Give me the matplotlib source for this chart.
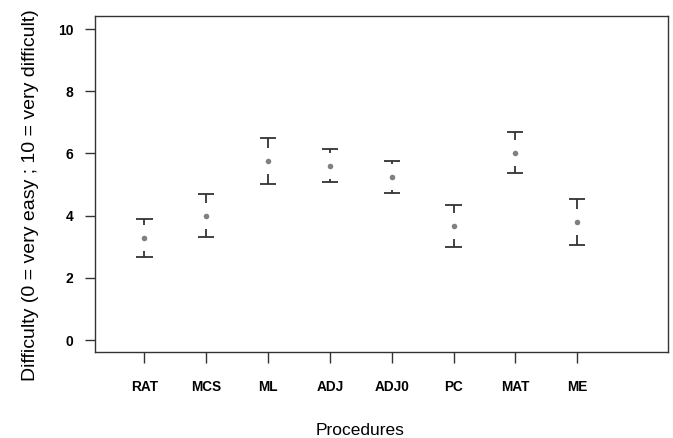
import matplotlib
matplotlib.use('Agg')
from matplotlib import pyplot as plt

plt.rcParams['font.family'] = ['Liberation Sans', 'DejaVu Sans']

# mean difficulty and interval limits per procedure
procedures = ['RAT', 'MCS', 'ML', 'ADJ', 'ADJ0', 'PC', 'MAT', 'ME']
means = [3.27, 3.98, 5.76, 5.60, 5.25, 3.67, 6.00, 3.80]
uppers = [3.89, 4.69, 6.50, 6.14, 5.76, 4.33, 6.68, 4.54]
lowers = [2.67, 3.31, 5.01, 5.09, 4.73, 3.00, 5.37, 3.05]

x = list(range(1, len(procedures) + 1))
line_c = '#333333'
gap = 0.42    # gap round the point, like R's plotCI
cap = 0.13

fig = plt.figure(figsize=(6.73, 4.38), dpi=100)
ax = fig.add_axes([0.1412, 0.1963, 0.9926 - 0.1412, 0.9635 - 0.1963])

for xi, m, hi, lo in zip(x, means, uppers, lowers):
    # upper stem + cap
    if hi > m + gap:
        ax.plot([xi, xi], [m + gap, hi], color=line_c, lw=1.3, solid_capstyle='butt')
    ax.plot([xi - cap, xi + cap], [hi, hi], color=line_c, lw=1.3, solid_capstyle='butt')
    # lower stem + cap
    if lo < m - gap:
        ax.plot([xi, xi], [m - gap, lo], color=line_c, lw=1.3, solid_capstyle='butt')
    ax.plot([xi - cap, xi + cap], [lo, lo], color=line_c, lw=1.3, solid_capstyle='butt')

ax.scatter(x, means, s=16, color='#808080', zorder=3, linewidths=0)

ax.set_xlim(0.2, 9.47)
ax.set_ylim(-0.386, 10.42)
ax.set_xticks(x)
ax.set_xticklabels(procedures, fontweight='bold', fontsize=9.8)
ax.set_yticks([0, 2, 4, 6, 8, 10])
ax.set_yticklabels(['0', '2', '4', '6', '8', '10'], fontweight='bold', fontsize=10)

ax.tick_params(axis='x', length=8, width=1, color=line_c, pad=12)
ax.tick_params(axis='y', length=7.5, width=1, color=line_c, pad=8)
for sp in ax.spines.values():
    sp.set_color(line_c)
    sp.set_linewidth(1)

ax.set_ylabel('Difficulty (0 = very easy ; 10 = very difficult)', fontsize=14)
ax.yaxis.set_label_coords(-0.098, 0.467)
ax.set_xlabel('Procedures', fontsize=12.5)
ax.xaxis.set_label_coords(0.4634, -0.21)

fig.savefig('out.png', dpi=100)
